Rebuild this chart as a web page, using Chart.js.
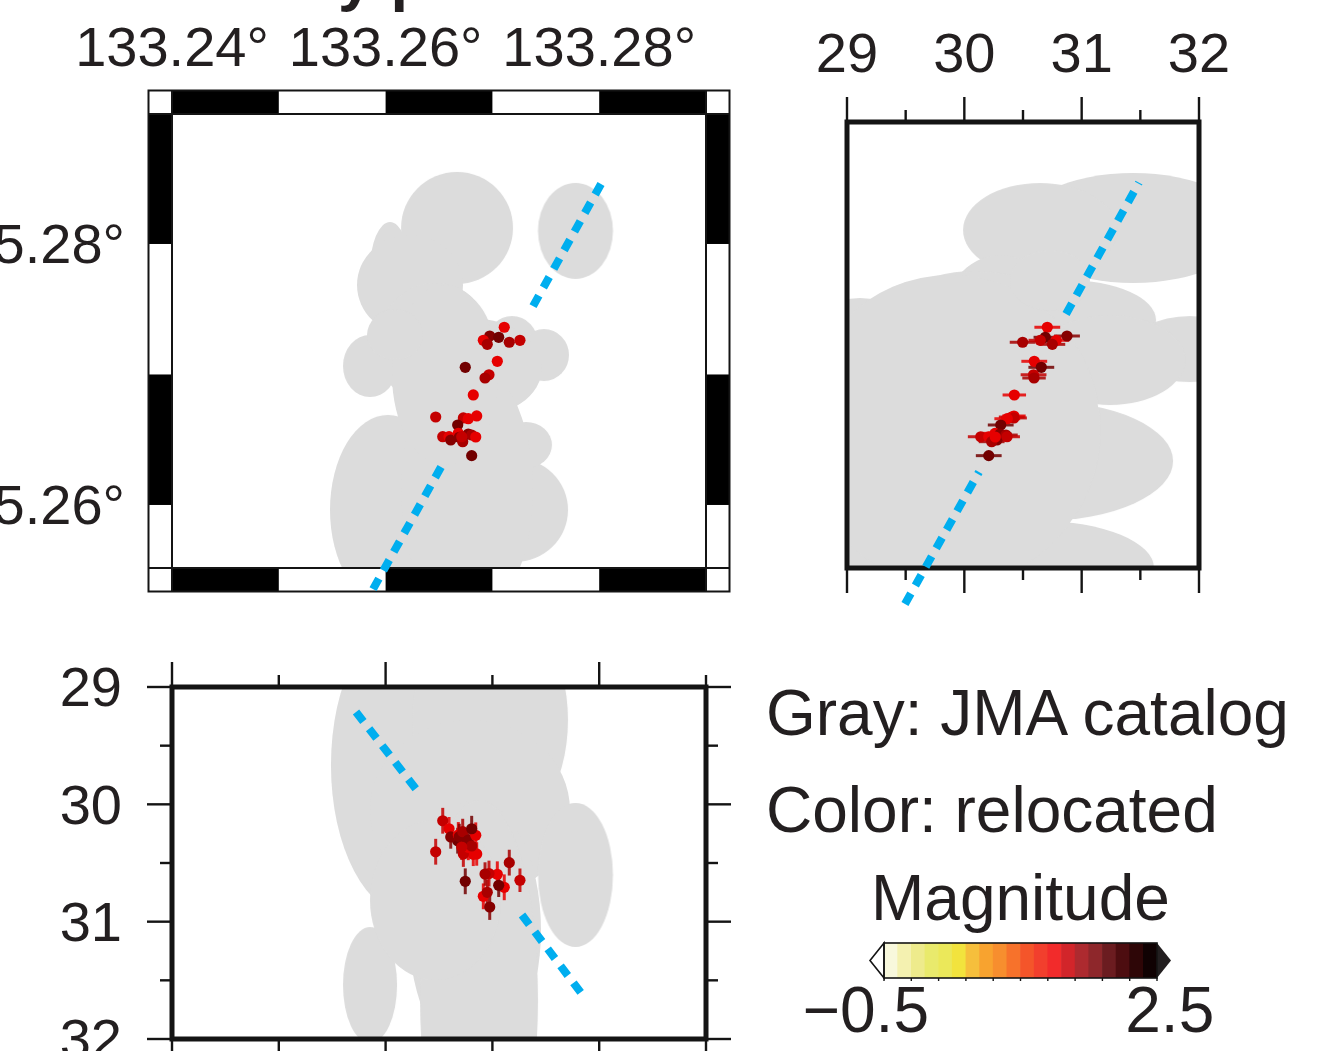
<!DOCTYPE html>
<html><head><meta charset="utf-8">
<script src="https://cdn.jsdelivr.net/npm/chart.js@4/dist/chart.umd.min.js"></script>
<style>
html,body{margin:0;padding:0;background:#fff;width:1318px;height:1051px;overflow:hidden}
canvas{position:absolute;left:0;top:0}
.t{position:absolute;font-family:"Liberation Sans",Arial,sans-serif;font-size:64px;line-height:64px;color:#231f20;white-space:pre}
</style></head><body>
<div class="t" id="title" style="left:338px;top:-55px;font-size:63px;font-weight:bold">y p</div>
<div class="t" style="left:766px;top:681px">Gray: JMA catalog</div>
<div class="t" style="left:766px;top:778px">Color: relocated</div>
<div class="t" style="left:871px;top:866px">Magnitude</div>
<canvas id="cMap" width="1318" height="1051"></canvas>
<canvas id="cRight" width="1318" height="1051"></canvas>
<canvas id="cBottom" width="1318" height="1300"></canvas>
<canvas id="cBar" width="1318" height="1051"></canvas>
<script>
// Relocated events
const quakeLon=[133.27111,133.26975,133.27059,133.26915,133.26952,133.27158,133.27258,133.27046,133.26746,133.26968,133.26931,133.26821,133.26469,133.26853,133.26728,133.26774,133.26675,133.26535,133.26594,133.26610,133.26681,133.26690,133.26722,133.26774,133.26806,133.26844,133.26713,133.26806];
const quakeLat=[35.27362,35.27295,35.27285,35.27262,35.27231,35.27247,35.27262,35.27101,35.27055,35.26998,35.26973,35.26843,35.26674,35.26682,35.26667,35.26661,35.26613,35.26523,35.26523,35.26498,35.26549,35.26519,35.26485,35.26544,35.26536,35.26521,35.26523,35.26378];
const quakeDepth=[30.707,30.875,30.690,30.784,30.750,30.497,30.647,30.596,30.656,30.590,30.594,30.426,30.404,30.423,30.423,30.366,30.310,30.140,30.208,30.278,30.261,30.276,30.233,30.304,30.355,30.264,30.364,30.208];
const quakeDepthErr=[0.11,0.11,0.10,0.11,0.11,0.11,0.10,0.11,0.11,0.11,0.10,0.10,0.11,0.10,0.11,0.11,0.11,0.11,0.10,0.10,0.11,0.11,0.11,0.10,0.10,0.11,0.11,0.11];
const quakeShade=[0,3,4,0,2,2,1,0,4,1,2,0,1,0,1,0,4,1,0,3,0,3,2,3,2,0,1,4];
const shadeColors=['#e60000','#c40000','#a80000','#860000','#720000'];
// Gray JMA catalog ellipses: map view
const mapGrayLon=[133.27778,133.26669,133.26041,133.26228,133.26463,133.25854,133.27184,133.27483,133.26790,133.26022,133.27212,133.27315,133.26762,133.26556,133.26088];
const mapGrayLat=[35.28100,35.28123,35.27801,35.27686,35.27226,35.27065,35.27241,35.27149,35.27050,35.25962,35.25962,35.26460,35.26115,35.26996,35.27303];
const mapGrayRLon=[0.00351,0.00524,0.00187,0.00496,0.00543,0.00253,0.00243,0.00234,0.00674,0.00543,0.00496,0.00243,0.00618,0.00496,0.00262];
const mapGrayRLat=[0.00368,0.00429,0.00368,0.00383,0.00475,0.00238,0.00207,0.00199,0.00383,0.00728,0.00398,0.00176,0.00996,0.00690,0.00192];
// Gray ellipses: depth / latitude section
const rightGrayDepth=[31.438,30.645,30.304,30.091,30.867,29.111,31.923,31.242,30.645,30.645,29.878,30.730];
const rightGrayLat=[35.28123,35.28107,35.27341,35.27264,35.27418,35.26498,35.27195,35.27111,35.26337,35.25517,35.26575,35.27724];
const rightGrayRDepth=[0.980,0.656,0.511,0.895,0.767,0.852,0.511,0.639,1.134,0.972,1.278,0.341];
const rightGrayRLat=[0.00421,0.00360,0.00575,0.00529,0.00307,0.01088,0.00253,0.00345,0.00460,0.00360,0.01188,0.00230];
// Gray ellipses: longitude / depth section
const bottomGrayLon=[133.26228,133.26978,133.26790,133.27778,133.26837,133.26875,133.25854,133.26463];
const bottomGrayDepth=[29.665,29.281,30.048,30.602,31.071,31.668,31.540,30.815];
const bottomGrayRLon=[0.00740,0.00730,0.00936,0.00351,0.00618,0.00552,0.00253,0.00609];
const bottomGrayRDepth=[1.278,1.023,0.767,0.614,1.108,1.705,0.494,0.682];
const mapTraceA=[[133.28017,35.28460],[133.27371,35.27510]];
const mapTraceB=[[133.26519,35.26291],[133.25873,35.25341]];
const rightTraceA=[[30.867,35.27464],[31.488,35.28470]];
const rightTraceB=[[29.494,35.25241],[30.125,35.26253]];
const bottomTraceA=[[133.25723,29.213],[133.26299,29.886]];
const bottomTraceB=[[133.27277,30.943],[133.27848,31.629]];
// Axes
const lonEdges=[133.24,133.25,133.26,133.27,133.28,133.29];
const latEdges=[35.28996,35.28,35.27,35.26,35.25517];
const lonLabels=[133.24,133.26,133.28];
const latLabels=[35.26,35.28];
const depthMajor=[29,30,31,32];
const depthMinor=[29.5,30.5,31.5];
const lonMajor=[133.24,133.26,133.28];
const lonMinor=[133.25,133.27,133.29];
// Colour bar
const magCells=['-0.50','-0.35','-0.20','-0.05','0.10','0.25','0.40','0.55','0.70','0.85','1.00','1.15','1.30','1.45','1.60','1.75','1.90','2.05','2.20','2.35'];
const magCellSize=[1,1,1,1,1,1,1,1,1,1,1,1,1,1,1,1,1,1,1,1];
const magColors=['#f8f8dc','#f4f1b0','#eeeb8c','#e9ea6c','#ebe85a','#f2e33d','#f6bf3c','#f8a32f','#f78e2e','#f7722b','#f4552a','#f23f2d','#f22b2b','#d2252a','#ad2a2f','#8e272b','#6b1c20','#4d0d10','#2e0607','#100203'];
const magTicks=[-0.5,-0.2,0.1,0.4,0.7,1.0,1.3,1.6,1.9,2.2,2.5];
const magLabelAt=[-0.70,2.64];
const magLabels=['\u22120.5','2.5'];

const INK='#231f20',LINE='#141414',BLUE='#00aeef',GRAY='#dcdcdc';
const FONT='"Liberation Sans",Arial,sans-serif';
Chart.defaults.font.family=FONT;

function fitTo(size){return s=>{if(s.isHorizontal())s.height=size;else s.width=size;s.paddingLeft=s.paddingRight=s.paddingTop=s.paddingBottom=0;};}
function pts(xs,ys){return xs.map((x,i)=>({x,y:ys[i]}));}
function traceData(t){return t.map(p=>({x:p[0],y:p[1]}));}
function ellipseStyle(rx,ry){
  return function(ctx){
    if(ctx.dataIndex===undefined)return 'circle';
    const sx=ctx.chart.scales.x,sy=ctx.chart.scales.y,i=ctx.dataIndex;
    const w=Math.abs(sx.getPixelForValue(sx.min+rx[i])-sx.getPixelForValue(sx.min));
    const h=Math.abs(sy.getPixelForValue(sy.min+ry[i])-sy.getPixelForValue(sy.min));
    const c=document.createElement('canvas');
    c.width=2*Math.ceil(w)+2;c.height=2*Math.ceil(h)+2;
    const g=c.getContext('2d');g.fillStyle=GRAY;g.beginPath();
    g.ellipse(c.width/2,c.height/2,w,h,0,0,Math.PI*2);g.fill();
    return c;
  };
}
function line(ctx,x0,y0,x1,y1,w){ctx.lineWidth=w;ctx.beginPath();ctx.moveTo(x0,y0);ctx.lineTo(x1,y1);ctx.stroke();}

function panel(id,p){
  const traceDs=t=>({data:traceData(t),showLine:true,borderColor:BLUE,borderWidth:8,borderDash:[12,9.3],borderCapStyle:'butt',pointRadius:0,clip:false,tension:0});
  const datasets=[];
  datasets.push(p.quakes);
  datasets.push(traceDs(p.traces[0]));
  datasets.push(traceDs(p.traces[1]));
  datasets.push({data:pts(p.gray[0],p.gray[1]),pointStyle:ellipseStyle(p.gray[2],p.gray[3]),pointRadius:60,clip:0,showLine:false,pointBorderWidth:0});
  const tickFont={family:FONT,size:56};
  const axis=(pos,min,max,list,fmt,show,pad,rev,size,labelOffset)=>({
    type:'linear',position:pos,min,max,reverse:!!rev,display:show,
    border:{display:false},grid:{display:false,drawTicks:false},
    afterBuildTicks:s=>{s.ticks=list.map(v=>({value:v}));},afterFit:fitTo(size),
    ticks:{autoSkip:false,maxRotation:0,minRotation:0,padding:pad,labelOffset:labelOffset||0,color:INK,font:tickFont,callback:fmt}
  });
  new Chart(document.getElementById(id),{
    type:'scatter',
    data:{datasets},
    options:{responsive:false,animation:false,events:[],
      layout:{padding:p.pad},
      plugins:{legend:{display:false},tooltip:{enabled:false},title:{display:false}},
      scales:{x:axis('top',p.xr[0],p.xr[1],p.xLabels,p.xFmt,p.xShow,p.xPad,false,p.xSize),
              y:axis('left',p.yr[0],p.yr[1],p.yLabels,p.yFmt,p.yShow,p.yPad,p.yRev,p.ySize,4)}},
    plugins:[{id:'deco',beforeDatasetDraw(chart,args){
      const ctx=chart.ctx,a=chart.chartArea,sx=chart.scales.x,sy=chart.scales.y;
      if(args.index===2){ctx.save();ctx.strokeStyle=LINE;ctx.fillStyle=LINE;p.deco(ctx,a,sx,sy);ctx.restore();}
      if(args.index===0&&p.bars){ctx.save();p.bars(ctx,sx,sy);ctx.restore();}
    }}]
  });
}
function ticksOn(ctx,scale,vals,fixed,dir,len,horizontal){
  vals.forEach(v=>{const q=scale.getPixelForValue(v);
    if(horizontal)line(ctx,q,fixed,q,fixed+dir*len,2.4);else line(ctx,fixed,q,fixed+dir*len,q,2.4);});
}
function frame(ctx,a){ctx.lineWidth=5;ctx.strokeRect(a.left,a.top,a.right-a.left,a.bottom-a.top);}
function mapDeco(ctx,a,sx,sy){
  const B=23.5;
  ctx.fillStyle='#fff';ctx.fillRect(a.left-B,a.top-B,a.right-a.left+2*B,B);ctx.fillRect(a.left-B,a.bottom,a.right-a.left+2*B,B);
  ctx.fillStyle='#000';
  for(let i=0;i<lonEdges.length-1;i+=2){
    const x0=sx.getPixelForValue(lonEdges[i]),x1=sx.getPixelForValue(lonEdges[i+1]);
    ctx.fillRect(x0,a.top-B,x1-x0,B);ctx.fillRect(x0,a.bottom,x1-x0,B);
  }
  for(let i=0;i<latEdges.length-1;i+=2){
    const y0=sy.getPixelForValue(latEdges[i]),y1=sy.getPixelForValue(latEdges[i+1]);
    ctx.fillRect(a.left-B,y0,B,y1-y0);ctx.fillRect(a.right,y0,B,y1-y0);
  }
  ctx.strokeStyle=LINE;ctx.lineWidth=2;
  ctx.strokeRect(a.left-B,a.top-B,a.right-a.left+2*B,a.bottom-a.top+2*B);
  line(ctx,a.left,a.top-B,a.left,a.bottom+B,2);line(ctx,a.right,a.top-B,a.right,a.bottom+B,2);
  line(ctx,a.left-B,a.top,a.right+B,a.top,2);line(ctx,a.left-B,a.bottom,a.right+B,a.bottom,2);
}
function rightDeco(ctx,a,sx){
  frame(ctx,a);
  ticksOn(ctx,sx,depthMajor,a.top,-1,25,true);ticksOn(ctx,sx,depthMinor,a.top,-1,12,true);
  ticksOn(ctx,sx,depthMajor,a.bottom,1,25,true);ticksOn(ctx,sx,depthMinor,a.bottom,1,12,true);
}
function bottomDeco(ctx,a,sx,sy){
  frame(ctx,a);
  ticksOn(ctx,sx,lonMajor,a.top,-1,25,true);ticksOn(ctx,sx,lonMinor,a.top,-1,12,true);
  ticksOn(ctx,sx,lonMajor,a.bottom,1,25,true);ticksOn(ctx,sx,lonMinor,a.bottom,1,12,true);
  ticksOn(ctx,sy,depthMajor,a.left,-1,25,false);ticksOn(ctx,sy,depthMinor,a.left,-1,12,false);
  ticksOn(ctx,sy,depthMajor,a.right,1,25,false);ticksOn(ctx,sy,depthMinor,a.right,1,12,false);
}
const quakeDs=(xs,ys)=>({data:pts(xs,ys),pointRadius:5.6,pointBorderWidth:0,clip:false,
  pointBackgroundColor:quakeShade.map(s=>shadeColors[s])});

panel('cMap',{pad:{left:0,top:0,right:1318-706,bottom:1051-568},xSize:114,ySize:172,
  xr:[133.24,133.29],yr:[35.25517,35.28996],
  xLabels:lonLabels,yLabels:latLabels,xShow:true,yShow:true,xPad:30,yPad:47,
  xFmt:v=>v.toFixed(2)+'\u00b0',yFmt:v=>v.toFixed(2)+'\u00b0',
  gray:[mapGrayLon,mapGrayLat,mapGrayRLon,mapGrayRLat],
  traces:[mapTraceA,mapTraceB],quakes:quakeDs(quakeLon,quakeLat),deco:mapDeco});

panel('cRight',{pad:{left:847,top:0,right:1318-1199,bottom:1051-568},xSize:122,ySize:0,
  xr:[29,32],yr:[35.25517,35.28935],
  xLabels:depthMajor,yLabels:[],xShow:true,yShow:false,xPad:32,yPad:0,
  xFmt:v=>String(v),yFmt:v=>String(v),
  gray:[rightGrayDepth,rightGrayLat,rightGrayRDepth,rightGrayRLat],
  traces:[rightTraceA,rightTraceB],quakes:quakeDs(quakeDepth,quakeLat),deco:rightDeco,
  bars(ctx,sx,sy){quakeDepth.forEach((d,i)=>{const y=sy.getPixelForValue(quakeLat[i]);ctx.strokeStyle=shadeColors[quakeShade[i]];ctx.globalAlpha=.85;
    line(ctx,sx.getPixelForValue(d-quakeDepthErr[i]),y,sx.getPixelForValue(d+quakeDepthErr[i]),y,3);});}});

panel('cBottom',{pad:{left:0,top:687,right:1318-706,bottom:1300-1039},xSize:0,ySize:172,
  xr:[133.24,133.29],yr:[29,32],yRev:true,
  xLabels:[],yLabels:depthMajor,xShow:false,yShow:true,xPad:0,yPad:50,
  xFmt:v=>String(v),yFmt:v=>String(v),
  gray:[bottomGrayLon,bottomGrayDepth,bottomGrayRLon,bottomGrayRDepth],
  traces:[bottomTraceA,bottomTraceB],quakes:quakeDs(quakeLon,quakeDepth),deco:bottomDeco,
  bars(ctx,sx,sy){quakeDepth.forEach((d,i)=>{const x=sx.getPixelForValue(quakeLon[i]);ctx.strokeStyle=shadeColors[quakeShade[i]];ctx.globalAlpha=.85;
    line(ctx,x,sy.getPixelForValue(d-quakeDepthErr[i]),x,sy.getPixelForValue(d+quakeDepthErr[i]),3);});}});

new Chart(document.getElementById('cBar'),{
  type:'bar',
  data:{labels:magCells,datasets:[{data:magCellSize,backgroundColor:magColors,borderWidth:0,barPercentage:1,categoryPercentage:1}]},
  options:{responsive:false,animation:false,events:[],
    layout:{padding:{left:884,top:943,right:1318-1157,bottom:0}},
    plugins:{legend:{display:false},tooltip:{enabled:false}},
    scales:{
      x:{display:false,afterFit:fitTo(0)},
      y:{display:false,min:0,max:1,afterFit:fitTo(0)},
      mag:{axis:'x',type:'linear',position:'bottom',offset:false,min:-0.5,max:2.5,border:{display:false},grid:{display:false,drawTicks:false,offset:false},
        afterBuildTicks:s=>{s.ticks=magLabelAt.map(v=>({value:v}));},afterFit:fitTo(1051-978),
        ticks:{autoSkip:false,maxRotation:0,minRotation:0,padding:-2,color:INK,font:{family:FONT,size:64},callback:(v,i)=>magLabels[i]}}
    }},
  plugins:[{id:'cbDeco',afterDatasetsDraw(chart){
    const ctx=chart.ctx,a=chart.chartArea,s=chart.scales.mag,mid=(a.top+a.bottom)/2;
    ctx.save();ctx.strokeStyle=LINE;ctx.fillStyle=INK;ctx.lineWidth=1.6;
    ctx.beginPath();ctx.moveTo(a.right,a.top);ctx.lineTo(a.right+14,mid);ctx.lineTo(a.right,a.bottom);ctx.closePath();ctx.fill();
    ctx.fillStyle='#fff';ctx.beginPath();ctx.moveTo(a.left,a.top);ctx.lineTo(a.left-14,mid);ctx.lineTo(a.left,a.bottom);ctx.closePath();ctx.fill();ctx.stroke();
    ctx.strokeRect(a.left,a.top,a.right-a.left,a.bottom-a.top);
    magTicks.forEach(v=>{const q=s.getPixelForValue(v);line(ctx,q,a.bottom,q,a.bottom+3,1.4);});
    ctx.restore();
  }}]
});
</script></body></html>
